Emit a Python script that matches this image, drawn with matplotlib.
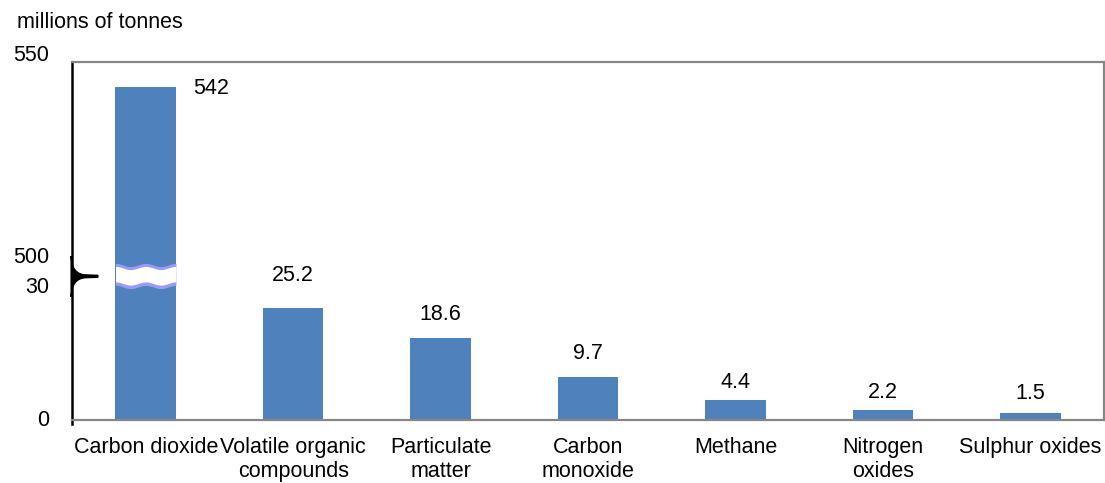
import numpy as np
import matplotlib
matplotlib.use("Agg")
import matplotlib.pyplot as plt
from matplotlib.path import Path
from matplotlib.patches import PathPatch
from matplotlib.transforms import blended_transform_factory

plt.rcParams['font.family'] = ['Liberation Sans', 'DejaVu Sans']

categories = ["Carbon dioxide", "Volatile organic\ncompounds", "Particulate\nmatter",
              "Carbon\nmonoxide", "Methane", "Nitrogen\noxides", "Sulphur oxides"]
values = [542, 25.2, 18.6, 9.7, 4.4, 2.2, 1.5]
value_labels = ["542", "25.2", "18.6", "9.7", "4.4", "2.2", "1.5"]
y_ticks = [0, 30, 500, 550]

W, H = 1105, 483
BAR = '#4F81BD'
FS = 15.5

# broken axis: 0-30 at the bottom, 500-550 on top, squeezed gap in between
A = 4.433          # px per unit, lower part
B = 4.04           # px per unit, upper part
G0 = 30 * A
T0 = G0 + 30
GAP = 30 / 470


def fwd(y):
    y = np.asarray(y, dtype=float)
    return np.where(y <= 30, y * A,
                    np.where(y >= 500, T0 + (y - 500) * B, G0 + (y - 30) * GAP))


def inv(d):
    d = np.asarray(d, dtype=float)
    return np.where(d <= G0, d / A,
                    np.where(d >= T0, 500 + (d - T0) / B, 30 + (d - G0) / GAP))


def fx(px):
    return px / W


def fy(py):
    return 1 - py / H


fig = plt.figure(figsize=(W / 100, H / 100), dpi=100)
ax = fig.add_axes([fx(72), fy(420), fx(1104) - fx(72), fy(62) - fy(420)])
ax.set_yscale('function', functions=(fwd, inv))

x = np.arange(len(categories))
ax.bar(x, values, width=0.41, color=BAR, zorder=2)
ax.set_xlim(-0.5, len(categories) - 0.5)
ax.set_ylim(0, 500 + (358 - T0) / B)

# value labels
offsets = [None, 33, 23, 23, 18, 18, 20]
for i, (v, lab) in enumerate(zip(values, value_labels)):
    if i == 0:
        ax.annotate(lab, (x[i], v), xytext=(65, -1), textcoords='offset pixels',
                    ha='center', va='center', fontsize=FS)
    else:
        ax.annotate(lab, (x[i], v), xytext=(0, offsets[i]), textcoords='offset pixels',
                    ha='center', va='center', fontsize=FS)

# y tick labels
ax.set_yticks([])
ytr = ax.get_yaxis_transform()
for t in y_ticks:
    ax.text(-0.022, t, str(t), transform=ytr, ha='right', va='center',
            fontsize=FS, clip_on=False)

ax.set_xticks(x)
ax.set_xticklabels(categories, fontsize=FS, linespacing=1.2)
ax.tick_params(axis='x', length=0, pad=12)

for s in ['top', 'right', 'bottom']:
    ax.spines[s].set_color('#868686')
    ax.spines[s].set_linewidth(1.6)
ax.spines['left'].set_color('black')
ax.spines['left'].set_linewidth(1.8)
ax.spines['left'].set_bounds(-0.9, ax.get_ylim()[1])

# break marks on the tall bar
btr = blended_transform_factory(ax.transData, ax.transAxes)
xs = np.linspace(-0.205, 0.205, 200)
amp = 1.6 / 358
wave = amp * np.sin((xs + 0.205) / 0.205 * 2 * np.pi + np.pi / 2)
top_edge = (420 - 265) / 358 + wave
bot_edge = (420 - 287) / 358 + wave
lav = '#9A9AF8'
ax.fill_between(xs, bot_edge, top_edge, color=lav, transform=btr, zorder=3, lw=0)
ax.fill_between(xs, bot_edge + 3.5 / 358, top_edge - 3.0 / 358, color='white',
                transform=btr, zorder=4, lw=0)

# brace on the left axis
pts = [(71, 256), (71.8, 274.5), (86, 274.8), (98, 275.2), (98, 277.4), (86, 277.8),
       (71.8, 278.2), (71, 297), (71, 256)]
codes = [Path.MOVETO, Path.CURVE3, Path.CURVE3, Path.LINETO, Path.LINETO, Path.LINETO,
         Path.CURVE3, Path.CURVE3, Path.CLOSEPOLY]
brace = Path([(fx(px), fy(py)) for px, py in pts], codes)
fig.patches.append(PathPatch(brace, transform=fig.transFigure, facecolor='black',
                             edgecolor='black', lw=0.8))

fig.text(fx(17), fy(28), "millions of tonnes", fontsize=FS, ha='left', va='baseline')

fig.savefig("out.png", dpi=100)
